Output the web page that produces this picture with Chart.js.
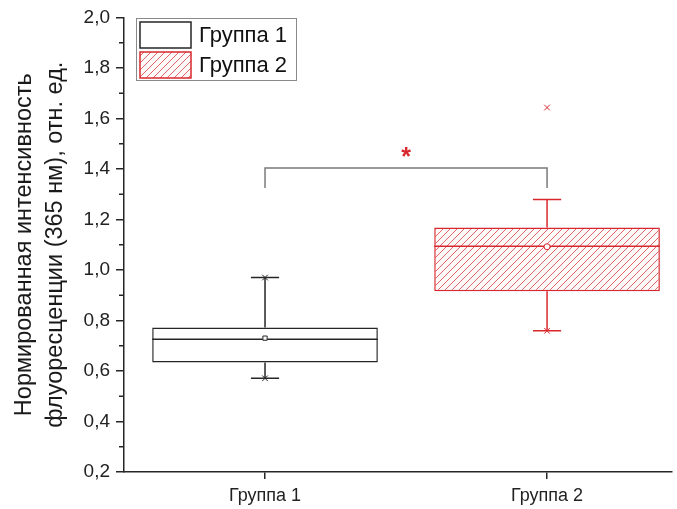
<!DOCTYPE html>
<html>
<head>
<meta charset="utf-8">
<script src="https://cdn.jsdelivr.net/npm/chart.js@4.4.1/dist/chart.umd.min.js"></script>
<style>
    html, body { margin: 0; padding: 0; background: #fff; }
</style>
</head>
<body>
<canvas id="myChart" width="677" height="509"></canvas>
<script>
// data
const groups = ['Группа 1', 'Группа 2'];
const groupPos = [1, 2];
const q1 = [0.634, 0.916];
const q3 = [0.772, 1.168];
const median = [0.726, 1.094];
const mean = [0.730, 1.092];
const whiskerLow = [0.571, 0.759];
const whiskerHigh = [0.970, 1.279];
const minVal = [0.571, 0.759];
const maxVal = [0.970, 1.643];
const yTicks = [0.2, 0.4, 0.6, 0.8, 1.0, 1.2, 1.4, 1.6, 1.8, 2.0];
const sigPair = [1, 2];
const sigLevel = 1.404;
const sigLegEnd = 1.325;
const sigText = '*';
const sigTextY = 1.462;

const FONT = "'Liberation Sans', Arial, sans-serif";
const dark = '#262626';
const red = '#d8282d';
const colors = [dark, red];

function hatch(color) {
    let c = document.createElement('canvas');
    c.width = 7;
    c.height = 7;
    let g = c.getContext('2d');
    g.fillStyle = '#fffafa';
    g.fillRect(0, 0, 7, 7);
    g.strokeStyle = color;
    g.lineWidth = 0.9;
    g.beginPath();
    g.moveTo(0, 7); g.lineTo(7, 0);
    g.moveTo(-1, 1); g.lineTo(1, -1);
    g.moveTo(6, 8); g.lineTo(8, 6);
    g.stroke();
    return g.createPattern(c, 'repeat');
}
const redHatch = hatch('rgba(216,40,45,0.8)');
const fills = ['#ffffff', redHatch];

// medians, whiskers and caps
const boxParts = {
    id: 'boxParts',
    afterDatasetDraw(chart, args) {
        if (args.index !== 0) return;
        let ctx = chart.ctx, x = chart.scales.x, y = chart.scales.y;
        let half = x.getPixelForValue(0.8) - x.getPixelForValue(0.4);
        let cap = x.getPixelForValue(0.55) - x.getPixelForValue(0.5);
        ctx.save();
        ctx.lineWidth = 1.5;
        groupPos.forEach(function(p, i) {
            let cx = x.getPixelForValue(p);
            let hi = y.getPixelForValue(whiskerHigh[i]);
            let lo = y.getPixelForValue(whiskerLow[i]);
            ctx.strokeStyle = colors[i];
            ctx.beginPath();
            ctx.moveTo(cx - half, y.getPixelForValue(median[i]));
            ctx.lineTo(cx + half, y.getPixelForValue(median[i]));
            ctx.moveTo(cx, y.getPixelForValue(q3[i]));
            ctx.lineTo(cx, hi);
            ctx.moveTo(cx - cap, hi);
            ctx.lineTo(cx + cap, hi);
            ctx.moveTo(cx, y.getPixelForValue(q1[i]));
            ctx.lineTo(cx, lo);
            ctx.moveTo(cx - cap, lo);
            ctx.lineTo(cx + cap, lo);
            ctx.stroke();
        });
        ctx.restore();
    },
    afterDraw(chart) {
        let ctx = chart.ctx, x = chart.scales.x, y = chart.scales.y;
        let area = chart.chartArea;
        ctx.save();
        // minor ticks
        ctx.strokeStyle = dark;
        ctx.lineWidth = 1.5;
        ctx.beginPath();
        for (let i = 0; i < yTicks.length - 1; i++) {
            let py = y.getPixelForValue((yTicks[i] + yTicks[i + 1]) / 2);
            ctx.moveTo(area.left, py);
            ctx.lineTo(area.left - 5, py);
        }
        ctx.stroke();
        // significance bracket
        let x1 = x.getPixelForValue(sigPair[0]), x2 = x.getPixelForValue(sigPair[1]);
        ctx.strokeStyle = '#7a7a7a';
        ctx.lineWidth = 1.5;
        ctx.beginPath();
        ctx.moveTo(x1, y.getPixelForValue(sigLegEnd));
        ctx.lineTo(x1, y.getPixelForValue(sigLevel));
        ctx.lineTo(x2, y.getPixelForValue(sigLevel));
        ctx.lineTo(x2, y.getPixelForValue(sigLegEnd));
        ctx.stroke();
        ctx.fillStyle = red;
        ctx.font = 'bold 25px ' + FONT;
        ctx.textAlign = 'center';
        ctx.textBaseline = 'middle';
        ctx.fillText(sigText, x.getPixelForValue((sigPair[0] + sigPair[1]) / 2), y.getPixelForValue(sigTextY) + 5);
        // legend
        ctx.strokeStyle = '#8a8a8a';
        ctx.lineWidth = 1;
        ctx.strokeRect(136.5, 18.5, 160, 62);
        ctx.font = '22px ' + FONT;
        ctx.textAlign = 'left';
        groups.forEach(function(g, i) {
            let top = 22 + i * 30;
            ctx.fillStyle = fills[i];
            ctx.fillRect(140, top, 51, 26);
            ctx.strokeStyle = colors[i];
            ctx.lineWidth = 1.5;
            ctx.strokeRect(140, top, 51, 26);
            ctx.fillStyle = '#111';
            ctx.fillText(g, 199, top + 14);
        });
        ctx.restore();
    }
};

let ctx = document.getElementById('myChart').getContext('2d');
let chart = new Chart(ctx, {
    data: {
        datasets: [{
            type: 'bar',
            order: 2,
            data: groupPos.map((p, i) => ({ x: p, y: [q1[i], q3[i]] })),
            backgroundColor: fills,
            borderColor: colors,
            borderWidth: 1.5,
            borderSkipped: false,
            categoryPercentage: 1,
            barPercentage: 0.8
        }, {
            type: 'scatter',
            order: 1,
            data: groupPos.map((p, i) => ({ x: p, y: mean[i] })),
            pointStyle: ['rect', 'circle'],
            radius: 3,
            borderWidth: 1,
            borderColor: colors,
            backgroundColor: '#fff'
        }, {
            type: 'scatter',
            order: 1,
            data: groupPos.map((p, i) => ({ x: p, y: minVal[i] })),
            pointStyle: 'crossRot',
            radius: 4,
            borderWidth: 1,
            borderColor: colors
        }, {
            type: 'scatter',
            order: 1,
            data: groupPos.map((p, i) => ({ x: p, y: maxVal[i] })),
            pointStyle: 'crossRot',
            radius: 4,
            borderWidth: 1,
            borderColor: colors
        }]
    },
    options: {
        responsive: false,
        animation: false,
        layout: { padding: { top: 17, left: 0, right: 0, bottom: 0 } },
        plugins: {
            legend: { display: false },
            tooltip: { enabled: false }
        },
        scales: {
            x: {
                type: 'linear',
                offset: false,
                min: 0.5,
                max: 2.443,
                afterBuildTicks: function(scale) {
                    scale.ticks = groupPos.map(v => ({ value: v }));
                },
                afterFit: function(scale) {
                    scale.height = 37;
                },
                ticks: {
                    callback: v => groups[groupPos.indexOf(v)],
                    font: { family: FONT, size: 18 },
                    color: '#222',
                    padding: 6,
                    maxRotation: 0
                },
                grid: {
                    offset: false,
                    drawOnChartArea: false,
                    tickLength: 7,
                    color: dark,
                    lineWidth: 1.5
                },
                border: { color: dark, width: 1.5 }
            },
            y: {
                min: 0.2,
                max: 2.0,
                afterBuildTicks: function(scale) {
                    scale.ticks = yTicks.map(v => ({ value: v }));
                },
                afterFit: function(scale) {
                    scale.width = 124;
                },
                ticks: {
                    callback: v => v.toFixed(1).replace('.', ','),
                    font: { family: FONT, size: 19 },
                    color: '#222',
                    padding: 6
                },
                grid: {
                    drawOnChartArea: false,
                    tickLength: 8,
                    color: dark,
                    lineWidth: 1.5
                },
                border: { color: dark, width: 1.5 },
                title: {
                    display: true,
                    text: ['Нормированная интенсивность', 'флуоресценции (365 нм), отн. ед.'],
                    font: { family: FONT, size: 23.5, lineHeight: 1.32 },
                    color: '#1a1a1a',
                    padding: { top: 9, bottom: 0 }
                }
            }
        }
    },
    plugins: [boxParts]
});
</script>
</body>
</html>
